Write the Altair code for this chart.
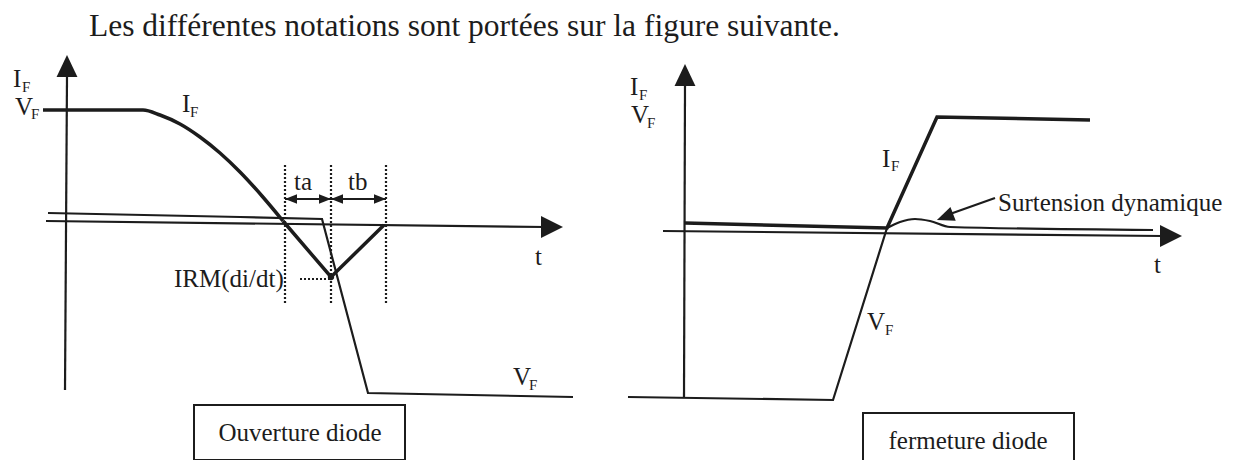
import altair as alt
import pandas as pd

INK = "#1c1c1c"
FONT = "Liberation Serif"

# ---------------- data (figure units) ----------------
# Left panel : "Ouverture diode"
l_if_curve_x = [43, 143, 160, 180, 200, 220, 240, 262, 283]
l_if_curve_y = [110, 110, 115, 124, 137, 153, 172, 196, 221]
l_if_rec_x = [283, 331, 384]
l_if_rec_y = [221, 277, 225]
l_vf_x = [48, 240, 322, 368, 573]
l_vf_y = [213, 217, 219, 393, 397]
l_taxis_x = [46, 545]
l_taxis_y = [221, 227]
l_yaxis_x = [65, 67]
l_yaxis_y = [390, 77]
l_marks_x = [285, 331, 386]          # ta / tb limits
l_marks_top, l_marks_bot = 165, 305
l_irm_x, l_irm_y = [300, 331], 279

# Right panel : "fermeture diode"
r_if_x = [685, 887, 937, 1090]
r_if_y = [223, 228, 117, 120]
r_vf_x = [628, 833, 887]
r_vf_y = [397, 400, 228]
r_bump_x = [887, 900, 915, 930, 950, 1153]
r_bump_y = [228, 222, 219, 221, 227, 230]
r_taxis_x = [663, 1162]
r_taxis_y = [231, 236]
r_yaxis_x = [684, 685]
r_yaxis_y = [397, 86]
r_surt_x = [995, 950]
r_surt_y = [198, 214]

# arrow heads (centres)
up_x, up_y = [67, 685], [66, 75]
right_x, right_y = [552, 1171], [227, 236]
small_r_x, small_r_y = [325, 380], [199, 199]
small_l_x, small_l_y = [291, 337], [199, 199]
surt_head_x, surt_head_y = [945], [217]

# labels
main_txt = ["I", "V", "I", "ta", "tb", "IRM(di/dt)", "t", "V",
            "I", "V", "I", "V", "t", "Surtension dynamique"]
main_x = [13, 15, 182, 294, 348, 174, 535, 513,
          630, 631, 882, 867, 1154, 998]
main_y = [87, 115, 112, 190, 190, 287, 265, 385,
          95, 123, 167, 330, 273, 211]
sub_txt = ["F"] * 8
sub_x = [22, 31, 190, 529, 639, 647, 891, 885]
sub_y = [92, 119, 117, 390, 100, 128, 171, 335]
title_txt = ["Les différentes notations sont portées sur la figure suivante."]
title_x, title_y = [89], [36]
box_txt = ["Ouverture diode", "fermeture diode"]
box_x1, box_x2 = [194, 863], [405, 1074]
box_y1, box_y2 = [405, 413], [460, 468]
box_tx, box_ty = [300, 968], [441, 449]

# ---------------- helpers ----------------
X = alt.Scale(domain=[8, 1232], nice=False, zero=False)
Y = alt.Scale(domain=[460, 8], nice=False, zero=False)


def xy(xf="x", yf="y"):
    return dict(x=alt.X(f"{xf}:Q", scale=X, axis=None),
                y=alt.Y(f"{yf}:Q", scale=Y, axis=None))


def lines(parts):
    frames = []
    for name, xs, ys in parts:
        frames.append(pd.DataFrame({"series": name, "order": list(range(len(xs))),
                                    "x": xs, "y": ys}))
    return pd.concat(frames, ignore_index=True)


thin = lines([("lvf", l_vf_x, l_vf_y), ("ltx", l_taxis_x, l_taxis_y),
              ("lty", l_yaxis_x, l_yaxis_y), ("rvf", r_vf_x, r_vf_y),
              ("rtx", r_taxis_x, r_taxis_y), ("rty", r_yaxis_x, r_yaxis_y),
              ("surt", r_surt_x, r_surt_y)])
thick = lines([("lif", l_if_rec_x, l_if_rec_y), ("rif", r_if_x, r_if_y)])
curve = lines([("lcurve", l_if_curve_x, l_if_curve_y)])
bump = lines([("bump", r_bump_x, r_bump_y)])

layers = []
layers.append(alt.Chart(thin).mark_line(color=INK, strokeWidth=2.2).encode(
    detail="series:N", order="order:Q", **xy()))
layers.append(alt.Chart(thick).mark_line(color=INK, strokeWidth=3.5, strokeJoin="miter").encode(
    detail="series:N", order="order:Q", **xy()))
layers.append(alt.Chart(curve).mark_line(color=INK, strokeWidth=3.5, interpolate="monotone").encode(
    order="order:Q", **xy()))
layers.append(alt.Chart(bump).mark_line(color=INK, strokeWidth=2.2, interpolate="monotone").encode(
    order="order:Q", **xy()))

dots = pd.DataFrame({"x": l_marks_x, "y": l_marks_top, "y2": l_marks_bot})
layers.append(alt.Chart(dots).mark_rule(color=INK, strokeWidth=2.2, strokeDash=[2, 2]).encode(
    y2="y2:Q", **xy()))
irm = pd.DataFrame({"x": [l_irm_x[0]], "x2": [l_irm_x[1]], "y": [l_irm_y]})
layers.append(alt.Chart(irm).mark_rule(color=INK, strokeWidth=2.2, strokeDash=[2, 2]).encode(
    x2="x2:Q", **xy()))
shafts = pd.DataFrame({"x": l_marks_x[:2], "x2": l_marks_x[1:], "y": small_r_y})
layers.append(alt.Chart(shafts).mark_rule(color=INK, strokeWidth=2).encode(
    x2="x2:Q", **xy()))
dot_pt = pd.DataFrame({"x": [l_if_rec_x[1]], "y": [l_if_rec_y[1]]})
layers.append(alt.Chart(dot_pt).mark_point(filled=True, color=INK, size=40, opacity=1).encode(**xy()))


def heads(xs, ys, path, size, angle=0):
    df = pd.DataFrame({"x": xs, "y": ys})
    return alt.Chart(df).mark_point(shape=path, filled=True, color=INK, size=size,
                                    opacity=1, strokeWidth=0, angle=angle).encode(**xy())


layers.append(heads(up_x, up_y, "M0,-1L0.95,1L-0.95,1Z", 484))
layers.append(heads(right_x, right_y, "M1,0L-1,-1L-1,1Z", 484))
layers.append(heads(small_r_x, small_r_y, "M1,0L-1,-0.8L-1,0.8Z", 144))
layers.append(heads(small_l_x, small_l_y, "M-1,0L1,-0.8L1,0.8Z", 144))
layers.append(heads(surt_head_x, surt_head_y, "M1,0L-1,-0.85L-1,0.85Z", 300, angle=159))

boxes = pd.DataFrame({"x": box_x1, "x2": box_x2, "y": box_y1, "y2": box_y2})
layers.append(alt.Chart(boxes).mark_rect(fill="white", fillOpacity=0, stroke=INK, strokeWidth=2).encode(
    x2="x2:Q", y2="y2:Q", **xy()))

mt = pd.DataFrame({"t": main_txt, "x": main_x, "y": main_y})
layers.append(alt.Chart(mt).mark_text(font=FONT, fontSize=25, align="left", baseline="alphabetic",
                                      color=INK).encode(text="t:N", **xy()))
st = pd.DataFrame({"t": sub_txt, "x": sub_x, "y": sub_y})
layers.append(alt.Chart(st).mark_text(font=FONT, fontSize=15, align="left", baseline="alphabetic",
                                      color=INK).encode(text="t:N", **xy()))
tt = pd.DataFrame({"t": title_txt, "x": title_x, "y": title_y})
layers.append(alt.Chart(tt).mark_text(font=FONT, fontSize=31.5, align="left", baseline="alphabetic",
                                      color=INK).encode(text="t:N", **xy()))
bt = pd.DataFrame({"t": box_txt, "x": box_tx, "y": box_ty})
layers.append(alt.Chart(bt).mark_text(font=FONT, fontSize=25, align="center", baseline="alphabetic",
                                      color=INK).encode(text="t:N", **xy()))

chart = alt.layer(*layers).properties(
    width=1224, height=452, padding=0,
    autosize=alt.AutoSizeParams(type="none"),
    background="white",
).configure_view(stroke=None)

chart.save("out.html", embed_options={"renderer": "svg", "actions": False})
